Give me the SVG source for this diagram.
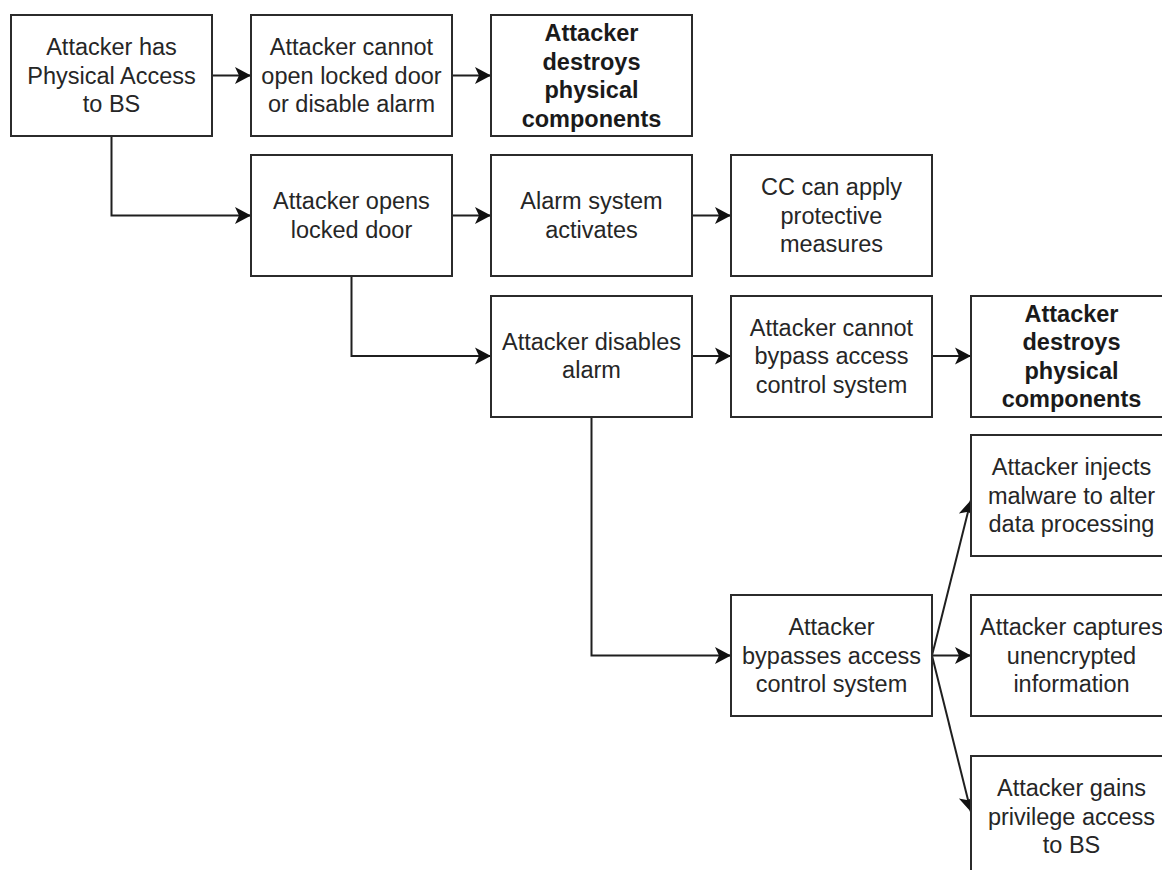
<svg xmlns="http://www.w3.org/2000/svg" width="1162" height="870" viewBox="0 0 1162 870">
  <style>
    .box { fill: #ffffff; stroke: #2b2b2b; stroke-width: 2; }
    .lbl { font-family: "Liberation Sans", Arial, sans-serif; font-size: 23.5px; fill: #262626; text-anchor: middle; }
    .bold { font-weight: bold; fill: #1a1a1a; }
    .edge { fill: none; stroke: #1f1f1f; stroke-width: 2; marker-end: url(#arrow); }
  </style>
  <defs>
    <marker id="arrow" markerUnits="userSpaceOnUse" markerWidth="20" markerHeight="20" refX="17" refY="9.5" orient="auto">
      <path d="M1,1 L17,9.5 L1,18 L5,9.5 Z" fill="#111111"/>
    </marker>
  </defs>
  <rect width="1162" height="870" fill="#ffffff"/>

  <!-- connectors -->
  <g id="connectors">
    <path class="edge" d="M212 75.5 H251"/>
    <path class="edge" d="M452 75.5 H491"/>
    <path class="edge" d="M111.5 136 V215.5 H251"/>
    <path class="edge" d="M452 215.5 H491"/>
    <path class="edge" d="M692 215.5 H731"/>
    <path class="edge" d="M351.5 276 V356 H491"/>
    <path class="edge" d="M692 356 H731"/>
    <path class="edge" d="M932 356 H971"/>
    <path class="edge" d="M591.5 417 V655.5 H731"/>
    <path class="edge" d="M932 655.5 L971 500"/>
    <path class="edge" d="M932 655.5 H971"/>
    <path class="edge" d="M932 655.5 L971 812"/>
  </g>

  <!-- row 1 -->
  <g id="physical-access">
    <rect class="box" x="11" y="15" width="201" height="121"/>
    <text class="lbl" x="111.5" y="55">Attacker has<tspan x="111.5" dy="28.5">Physical Access</tspan><tspan x="111.5" dy="28.5">to BS</tspan></text>
  </g>
  <g id="cannot-open">
    <rect class="box" x="251" y="15" width="201" height="121"/>
    <text class="lbl" x="351.5" y="55">Attacker cannot<tspan x="351.5" dy="28.5">open locked door</tspan><tspan x="351.5" dy="28.5">or disable alarm</tspan></text>
  </g>
  <g id="destroys-1">
    <rect class="box" x="491" y="15" width="201" height="121"/>
    <text class="lbl bold" x="591.5" y="41">Attacker<tspan x="591.5" dy="28.5">destroys</tspan><tspan x="591.5" dy="28.5">physical</tspan><tspan x="591.5" dy="28.5">components</tspan></text>
  </g>

  <!-- row 2 -->
  <g id="opens-door">
    <rect class="box" x="251" y="155" width="201" height="121"/>
    <text class="lbl" x="351.5" y="209">Attacker opens<tspan x="351.5" dy="28.5">locked door</tspan></text>
  </g>
  <g id="alarm-activates">
    <rect class="box" x="491" y="155" width="201" height="121"/>
    <text class="lbl" x="591.5" y="209">Alarm system<tspan x="591.5" dy="28.5">activates</tspan></text>
  </g>
  <g id="protective-measures">
    <rect class="box" x="731" y="155" width="201" height="121"/>
    <text class="lbl" x="831.5" y="195">CC can apply<tspan x="831.5" dy="28.5">protective</tspan><tspan x="831.5" dy="28.5">measures</tspan></text>
  </g>

  <!-- row 3 -->
  <g id="disables-alarm">
    <rect class="box" x="491" y="296" width="201" height="121"/>
    <text class="lbl" x="591.5" y="349.5">Attacker disables<tspan x="591.5" dy="28.5">alarm</tspan></text>
  </g>
  <g id="cannot-bypass">
    <rect class="box" x="731" y="296" width="201" height="121"/>
    <text class="lbl" x="831.5" y="335.5">Attacker cannot<tspan x="831.5" dy="28.5">bypass access</tspan><tspan x="831.5" dy="28.5">control system</tspan></text>
  </g>
  <g id="destroys-2">
    <rect class="box" x="971" y="296" width="201" height="121"/>
    <text class="lbl bold" x="1071.5" y="321.5">Attacker<tspan x="1071.5" dy="28.5">destroys</tspan><tspan x="1071.5" dy="28.5">physical</tspan><tspan x="1071.5" dy="28.5">components</tspan></text>
  </g>

  <!-- access-control bypass branch -->
  <g id="injects-malware">
    <rect class="box" x="971" y="435" width="201" height="121"/>
    <text class="lbl" x="1071.5" y="475">Attacker injects<tspan x="1071.5" dy="28.5">malware to alter</tspan><tspan x="1071.5" dy="28.5">data processing</tspan></text>
  </g>
  <g id="bypasses-access">
    <rect class="box" x="731" y="595" width="201" height="121"/>
    <text class="lbl" x="831.5" y="635">Attacker<tspan x="831.5" dy="28.5">bypasses access</tspan><tspan x="831.5" dy="28.5">control system</tspan></text>
  </g>
  <g id="captures-info">
    <rect class="box" x="971" y="595" width="201" height="121"/>
    <text class="lbl" x="1071.5" y="635">Attacker captures<tspan x="1071.5" dy="28.5">unencrypted</tspan><tspan x="1071.5" dy="28.5">information</tspan></text>
  </g>
  <g id="privilege-access">
    <rect class="box" x="971" y="756" width="201" height="121"/>
    <text class="lbl" x="1071.5" y="796">Attacker gains<tspan x="1071.5" dy="28.5">privilege access</tspan><tspan x="1071.5" dy="28.5">to BS</tspan></text>
  </g>
</svg>
